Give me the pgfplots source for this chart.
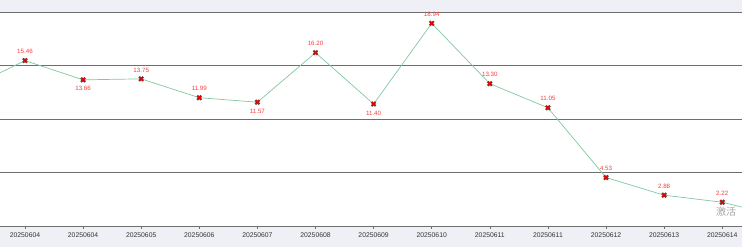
\documentclass[border=0pt]{standalone}
\usepackage{pgfplots}
\pgfplotsset{compat=1.18}
\usepackage{fontspec}
\setmainfont{Liberation Sans}
\newfontfamily\cjk{Noto Sans CJK SC}
\definecolor{band}{RGB}{238,240,245}
\definecolor{gridc}{RGB}{110,110,110}
\definecolor{linec}{RGB}{128,200,160}
\definecolor{labc}{RGB}{250,60,60}
\begin{document}
\begin{tikzpicture}[x=1pt,y=1pt]
\fill[band] (0,-21) rectangle (742,0);
\fill[band] (0,214) rectangle (742,226);
\begin{axis}[
  at={(0,0)}, anchor=south west,
  scale only axis, width=742pt, height=214pt,
  xmin=-0.43, xmax=12.34, ymin=0, ymax=20,
  axis x line*=bottom, separate axis lines,
  y axis line style={draw=none},
  x axis line style={gridc, line width=0.8pt, -},
  xtick={0,...,12},
  xticklabels={20250604,20250604,20250605,20250606,20250607,20250608,20250609,20250610,20250611,20250611,20250612,20250613,20250614},
  xticklabel style={font=\fontsize{6.8}{7}\selectfont, text=black!80, yshift=-1pt},
  xtick style={gridc, line width=0.5pt},
  tick align=outside, major tick length=2.5pt,
  ytick={0,5,10,15,20}, ymajorgrids, yticklabels={}, ytick style={draw=none},
  grid style={gridc, line width=0.6pt},
  clip mode=individual,
  /pgf/number format/.cd, fixed, fixed zerofill, precision=2, assume math mode=true,
]
\addplot[linec, line width=0.7pt, mark=none] coordinates {
(-1,12.8) (0,15.46) (1,13.66) (2,13.75) (3,11.99) (4,11.57) (5,16.20) (6,11.40) (7,18.94) (8,13.30) (9,11.05) (10,4.53) (11,2.88) (12,2.22) (13,0.9)};
\addplot[only marks, mark=x, mark size=2.9pt, mark options={black!65, line width=2.2pt}] coordinates {
(0,15.46) (1,13.66) (2,13.75) (3,11.99) (4,11.57) (5,16.20) (6,11.40) (7,18.94) (8,13.30) (9,11.05) (10,4.53) (11,2.88) (12,2.22)};
\addplot[only marks, mark=x, mark size=2.7pt, mark options={red!90!black, line width=1.2pt}] coordinates {
(0,15.46) (1,13.66) (2,13.75) (3,11.99) (4,11.57) (5,16.20) (6,11.40) (7,18.94) (8,13.30) (9,11.05) (10,4.53) (11,2.88) (12,2.22)};
% labels above
\addplot[draw=none, mark=none, point meta=y, nodes near coords,
  every node near coord/.append style={font=\fontsize{6.2}{6}\selectfont, text=labc, anchor=center, yshift=9pt}] coordinates {
(0,15.46) (2,13.75) (3,11.99) (5,16.20) (7,18.94) (8,13.30) (9,11.05) (10,4.53) (11,2.88) (12,2.22)};
% labels below
\addplot[draw=none, mark=none, point meta=y, nodes near coords,
  every node near coord/.append style={font=\fontsize{6.2}{6}\selectfont, text=labc, anchor=center, yshift=-9pt}] coordinates {
(1,13.66) (4,11.57) (6,11.40)};
\end{axis}
\node[text=black!35, font=\cjk\fontsize{10}{10}\selectfont, anchor=west, inner sep=0] at (716,14) {激活};
\pgfresetboundingbox
\useasboundingbox (0,-21) rectangle (742,226);
\end{tikzpicture}
\end{document}
